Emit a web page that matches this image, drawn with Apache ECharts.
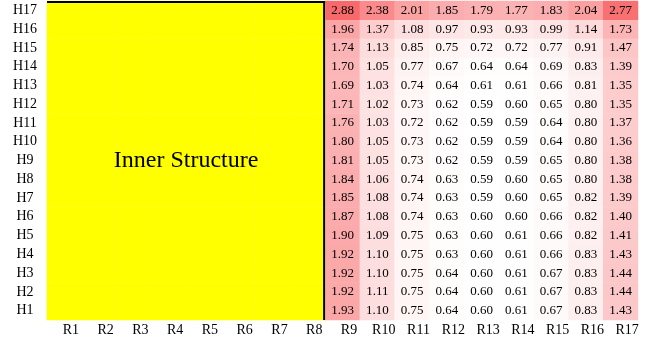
<!DOCTYPE html>
<html>
<head>
<meta charset="utf-8">
<script src="https://cdn.jsdelivr.net/npm/echarts@6/dist/echarts.min.js"></script>
<style>html,body{margin:0;padding:0;background:#fff}#c{width:647px;height:340px}</style>
</head>
<body>
<div id="c"></div>
<script>
var colLabels = ['R1','R2','R3','R4','R5','R6','R7','R8','R9','R10','R11','R12','R13','R14','R15','R16','R17'];
var rowLabels = ['H1','H2','H3','H4','H5','H6','H7','H8','H9','H10','H11','H12','H13','H14','H15','H16','H17'];
var innerCols = ['R1','R2','R3','R4','R5','R6','R7','R8'];
var outerCols = ['R9','R10','R11','R12','R13','R14','R15','R16','R17'];
var innerText = 'Inner Structure';
// values for R9..R17, rows listed from top (H17) to bottom (H1)
var rowH17 = [2.88,2.38,2.01,1.85,1.79,1.77,1.83,2.04,2.77];
var rowH16 = [1.96,1.37,1.08,0.97,0.93,0.93,0.99,1.14,1.73];
var rowH15 = [1.74,1.13,0.85,0.75,0.72,0.72,0.77,0.91,1.47];
var rowH14 = [1.70,1.05,0.77,0.67,0.64,0.64,0.69,0.83,1.39];
var rowH13 = [1.69,1.03,0.74,0.64,0.61,0.61,0.66,0.81,1.35];
var rowH12 = [1.71,1.02,0.73,0.62,0.59,0.60,0.65,0.80,1.35];
var rowH11 = [1.76,1.03,0.72,0.62,0.59,0.59,0.64,0.80,1.37];
var rowH10 = [1.80,1.05,0.73,0.62,0.59,0.59,0.64,0.80,1.36];
var rowH9  = [1.81,1.05,0.73,0.62,0.59,0.59,0.65,0.80,1.38];
var rowH8  = [1.84,1.06,0.74,0.63,0.59,0.60,0.65,0.80,1.38];
var rowH7  = [1.85,1.08,0.74,0.63,0.59,0.60,0.65,0.82,1.39];
var rowH6  = [1.87,1.08,0.74,0.63,0.60,0.60,0.66,0.82,1.40];
var rowH5  = [1.90,1.09,0.75,0.63,0.60,0.61,0.66,0.82,1.41];
var rowH4  = [1.92,1.10,0.75,0.63,0.60,0.61,0.66,0.83,1.43];
var rowH3  = [1.92,1.10,0.75,0.64,0.60,0.61,0.67,0.83,1.44];
var rowH2  = [1.92,1.11,0.75,0.64,0.60,0.61,0.67,0.83,1.44];
var rowH1  = [1.93,1.10,0.75,0.64,0.60,0.61,0.67,0.83,1.43];

(function () {
var rowsBottomUp = [rowH1,rowH2,rowH3,rowH4,rowH5,rowH6,rowH7,rowH8,rowH9,rowH10,rowH11,rowH12,rowH13,rowH14,rowH15,rowH16,rowH17];

var heatData = [];
var minV = Infinity, maxV = -Infinity;
rowsBottomUp.forEach(function (row, ri) {
  row.forEach(function (v, ci) {
    heatData.push([outerCols[ci], rowLabels[ri], v]);
    if (v < minV) minV = v;
    if (v > maxV) maxV = v;
  });
});
var innerData = [];
rowLabels.forEach(function (r) {
  innerCols.forEach(function (c) { innerData.push([c, r, 0]); });
});

var FONT = '"Liberation Serif","Times New Roman",serif';
var chart = echarts.init(document.getElementById('c'), null, {renderer: 'canvas'});
chart.setOption({
  backgroundColor: '#ffffff',
  animation: false,
  grid: {left: 47, right: 9, top: 1, bottom: 20, containLabel: false},
  xAxis: {
    type: 'category', data: colLabels,
    axisLine: {show: false}, axisTick: {show: false}, splitLine: {show: false},
    axisLabel: {interval: 0, fontFamily: FONT, fontSize: 14, color: '#000', margin: 3, padding: [0,0,0,13]}
  },
  yAxis: {
    type: 'category', data: rowLabels,
    axisLine: {show: false}, axisTick: {show: false}, splitLine: {show: false},
    axisLabel: {interval: 0, fontFamily: FONT, fontSize: 14, color: '#000', margin: 22, align: 'center', padding: [2,0,0,0]}
  },
  visualMap: {
    show: false, seriesIndex: 0, min: minV, max: maxV, dimension: 2,
    inRange: {color: ['#ffffff', '#f8696b']}
  },
  series: [
    {
      type: 'heatmap', data: heatData,
      label: {show: true, fontFamily: FONT, fontSize: 13, color: '#000',
        formatter: function (p) { return p.value[2].toFixed(2); }},
      emphasis: {disabled: true}
    },
    {
      type: 'heatmap', data: innerData,
      itemStyle: {color: '#ffff00'},
      emphasis: {disabled: true}
    }
  ]
});

function px(c) { return chart.convertToPixel({xAxisIndex: 0}, c); }
function py(r) { return chart.convertToPixel({yAxisIndex: 0}, r); }
var bw = px('R2') - px('R1');
var bh = py('H1') - py('H2');
var xL = px('R1') - bw / 2;
var xR = (px('R8') + px('R9')) / 2;
var yT = py('H17') - bh / 2;
var yB = py('H1') + bh / 2;
chart.setOption({
  graphic: [
    {type: 'line', shape: {x1: xL, y1: yT + 1, x2: xR, y2: yT + 1}, style: {stroke: '#000', lineWidth: 2}, z: 100},
    {type: 'line', shape: {x1: xR - 1, y1: yT, x2: xR - 1, y2: yB}, style: {stroke: '#000', lineWidth: 2}, z: 100},
    {type: 'text', x: (xL + xR) / 2, y: (yT + yB) / 2,
      style: {text: innerText, font: '24px ' + FONT, fill: '#000', align: 'center', verticalAlign: 'middle'}, z: 100}
  ]
});
})();
</script>
</body>
</html>
